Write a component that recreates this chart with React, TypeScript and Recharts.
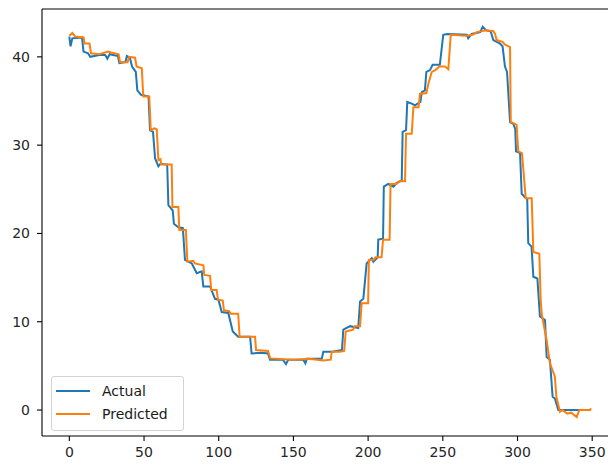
import React from 'react';
import { LineChart, Line, XAxis, YAxis, Legend, ReferenceLine } from 'recharts';

const actualX = [0, 0.8, 2, 8.5, 9.5, 12.5, 14, 20, 24, 25.4, 27, 32.5, 33.5, 37.5, 38.5, 40.5, 42, 44.5, 45.5, 48, 53, 54, 56, 57.4, 59.6, 61, 65.5, 66.3, 69.2, 70, 73, 76, 77.4, 82, 85.3, 88.6, 89.7, 94.2, 97.5, 99.8, 102, 106.4, 109.4, 113, 121, 122, 128.6, 133, 134.3, 143, 145, 146.5, 156.6, 158, 159, 169, 170, 176, 182.5, 183.4, 188, 193.4, 194.6, 196.8, 199, 202.4, 203.5, 206.4, 206.8, 210, 210.5, 213.5, 217, 219, 222.5, 223.1, 225.4, 226.2, 229.2, 231.4, 235, 235.9, 238, 239, 241.4, 243.2, 248, 250.3, 253, 266, 267, 269.3, 275, 276.7, 279, 282, 283.8, 288.3, 290, 291.6, 293, 295, 297.2, 298.5, 299, 301.7, 302.8, 305, 306.5, 307.2, 309.4, 310.6, 313.3, 315, 318.4, 319.5, 321.7, 323.5, 325, 327.3, 349];
const actualY = [42.3, 41.2, 42.1, 42.2, 40.6, 40.4, 40.0, 40.2, 40.2, 39.8, 40.3, 40.1, 39.3, 39.4, 40.1, 39.9, 38.9, 38.3, 36.2, 35.7, 35.5, 31.7, 31.5, 28.5, 27.6, 27.9, 27.8, 23.2, 22.6, 21.1, 20.7, 20.6, 17.0, 16.6, 15.5, 15.7, 14.0, 14.0, 12.6, 12.5, 11.1, 11.0, 8.9, 8.3, 8.3, 6.4, 6.5, 6.4, 5.7, 5.7, 5.2, 5.7, 5.7, 5.3, 5.8, 5.8, 6.6, 6.6, 6.8, 9.1, 9.5, 9.3, 12.3, 12.6, 16.6, 17.2, 16.8, 17.3, 19.3, 19.4, 25.3, 25.6, 25.3, 25.7, 26.0, 31.5, 31.7, 34.9, 34.7, 34.5, 34.9, 36.0, 36.2, 38.3, 38.5, 39.1, 39.1, 42.5, 42.6, 42.5, 42.1, 42.6, 42.8, 43.4, 43.0, 42.9, 41.9, 41.5, 41.2, 38.9, 38.3, 32.6, 32.4, 31.8, 29.3, 29.1, 24.5, 24.1, 23.9, 18.9, 18.5, 15.1, 14.9, 10.6, 10.2, 6.0, 5.7, 1.5, 1.3, 0, 0];

const predictedX = [0, 2, 4, 9.5, 10.3, 13.5, 14.5, 20, 26, 28, 33, 34, 39, 40, 44, 45, 48.5, 49.5, 53.5, 54.5, 57, 58.5, 59.6, 61, 61.5, 68.5, 69, 73, 73.6, 78, 79, 83, 84, 89.7, 90.3, 94.2, 95, 98.6, 99.5, 102.7, 103.5, 107, 108, 113, 114, 124.3, 125, 133, 134.5, 150, 160, 170, 175, 175.6, 181, 184, 185, 190, 191, 194.6, 195.7, 200, 200.5, 203.5, 205, 209, 210, 214.4, 215, 219, 221, 224.7, 225.4, 229.2, 230.3, 233.8, 234.7, 239, 240.4, 242.6, 245, 247.7, 251.5, 253.7, 255.3, 265.7, 270, 272.7, 279.4, 283.8, 285, 286, 290, 291.5, 295, 295.5, 296, 299.4, 300.5, 303, 305.5, 309.5, 310.6, 314.6, 315.5, 316.2, 319.5, 321.7, 325, 326, 328.4, 330, 333.3, 336, 339.6, 341.4, 348.7, 349];
const predictedY = [42.4, 42.7, 42.3, 42.2, 41.5, 41.5, 40.4, 40.3, 40.6, 40.5, 40.3, 39.4, 39.4, 40.0, 39.9, 38.9, 38.7, 35.5, 35.5, 31.7, 31.9, 31.8, 28.3, 28.4, 27.8, 27.8, 23.0, 23.0, 20.4, 20.4, 16.8, 16.9, 16.6, 16.4, 15.3, 15.2, 13.6, 13.6, 12.5, 12.4, 11.3, 11.2, 10.9, 10.9, 8.3, 8.3, 6.8, 6.7, 5.85, 5.7, 5.8, 5.6, 5.7, 6.6, 6.6, 6.7, 8.9, 9.1, 9.5, 9.5, 12.1, 12.1, 17.0, 17.0, 17.3, 17.3, 19.3, 19.3, 25.6, 25.6, 25.9, 25.9, 31.3, 31.3, 34.3, 34.3, 35.8, 35.9, 37.0, 38.3, 38.5, 38.9, 38.9, 38.6, 42.5, 42.4, 42.5, 42.8, 43.0, 42.9, 42.6, 41.9, 41.7, 41.4, 41.1, 32.6, 32.6, 32.3, 29.3, 29.1, 24.0, 24.0, 17.9, 17.7, 12.5, 10.9, 7.9, 5.3, 3.8, 1.5, -0.2, 0, -0.4, -0.3, -0.8, 0, 0, 0.2];

const seriesNames = ['Actual', 'Predicted'];
const seriesColors = ['#1f77b4', '#ff7f0e'];
const xTicks = [0, 50, 100, 150, 200, 250, 300, 350];
const yTicks = [0, 10, 20, 30, 40];
const xDomain = [-18.3, 366.6];
const yDomain = [-2.94, 45.42];

const actualData = actualX.map((x, i) => ({ x, y: actualY[i] }));
const predictedData = predictedX.map((x, i) => ({ x, y: predictedY[i] }));

const FONT = '"DejaVu Sans", sans-serif';

const LegendBox = () => (
  <div
    style={{
      width: 133,
      height: 55,
      boxSizing: 'border-box',
      border: '1px solid #d3d3d3',
      borderRadius: 3,
      background: 'rgba(255,255,255,0.8)',
      position: 'relative',
      fontFamily: FONT,
      fontSize: 14,
      color: '#1a1a1a',
    }}
  >
    {seriesNames.map((name, i) => (
      <div
        key={name}
        style={{
          position: 'absolute',
          left: 4,
          top: (i === 0 ? 13.7 : 37) - 10,
          height: 20,
          display: 'flex',
          alignItems: 'center',
          whiteSpace: 'nowrap',
        }}
      >
        <svg width={34} height={20} style={{ display: 'block' }}>
          <line x1={0} y1={10} x2={34} y2={10} stroke={seriesColors[i]} strokeWidth={2} />
        </svg>
        <span style={{ marginLeft: 12 }}>{name}</span>
      </div>
    ))}
  </div>
);

export default function App() {
  return (
    <div
      style={{
        position: 'fixed',
        left: 0,
        top: 0,
        width: 608,
        height: 466,
        overflow: 'hidden',
        background: '#fff',
        fontFamily: FONT,
      }}
    >
      <LineChart width={640} height={466} margin={{ top: 9, right: 23, bottom: 0, left: 0 }}>
        <XAxis
          dataKey="x"
          type="number"
          domain={xDomain}
          ticks={xTicks}
          interval={0}
          allowDataOverflow
          height={30}
          tickSize={5}
          tickMargin={6}
          axisLine={{ stroke: '#000', strokeWidth: 1.1 }}
          tickLine={{ stroke: '#000', strokeWidth: 1.1 }}
          tick={{ fill: '#262626', fontSize: 14, fontFamily: FONT }}
        />
        <YAxis
          type="number"
          domain={yDomain}
          ticks={yTicks}
          interval={0}
          allowDataOverflow
          width={42}
          tickSize={5}
          tickMargin={7}
          axisLine={{ stroke: '#000', strokeWidth: 1.1 }}
          tickLine={{ stroke: '#000', strokeWidth: 1.1 }}
          tick={{ fill: '#262626', fontSize: 14, fontFamily: FONT }}
        />
        <ReferenceLine y={yDomain[1]} stroke="#000" strokeWidth={1.1} ifOverflow="visible" />
        <Line
          data={actualData}
          dataKey="y"
          name={seriesNames[0]}
          type="linear"
          stroke={seriesColors[0]}
          strokeWidth={2}
          dot={false}
          activeDot={false}
          isAnimationActive={false}
        />
        <Line
          data={predictedData}
          dataKey="y"
          name={seriesNames[1]}
          type="linear"
          stroke={seriesColors[1]}
          strokeWidth={2}
          dot={false}
          activeDot={false}
          isAnimationActive={false}
        />
        <Legend
          layout="vertical"
          align="center"
          verticalAlign="middle"
          wrapperStyle={{ left: 51, top: 376, width: 133, height: 55 }}
          content={() => <LegendBox />}
        />
      </LineChart>
    </div>
  );
}
